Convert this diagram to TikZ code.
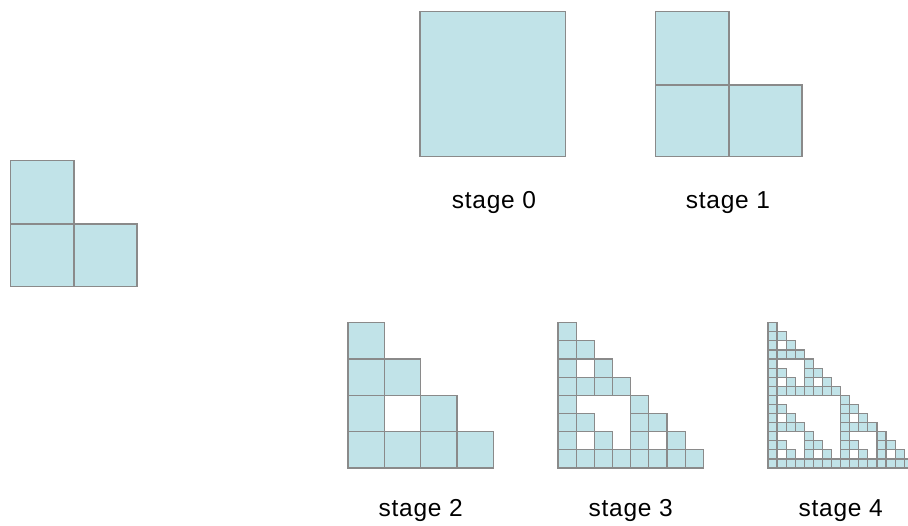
\documentclass[tikz,border=0pt]{standalone}
\usepackage{fontspec}
\setmainfont{Liberation Sans}
\definecolor{cellfill}{RGB}{193,227,232}
\definecolor{cellline}{RGB}{138,138,138}
\tikzset{
  cell/.style={fill=cellfill,draw=cellline,line width=1.2pt},
  lbl/.style={font=\fontsize{24.5}{29}\selectfont\addfontfeature{LetterSpace=3},anchor=base,inner sep=0pt}
}
\newcommand\sierpinskigrid[4]{% #1 left, #2 bottom, #3 cell size, #4 n-1
  \foreach \i in {0,...,#4}{
    \foreach \j in {0,...,#4}{
      \pgfmathtruncatemacro\hit{mod(floor(\i/1),2)*mod(floor(\j/1),2)+mod(floor(\i/2),2)*mod(floor(\j/2),2)+mod(floor(\i/4),2)*mod(floor(\j/4),2)+mod(floor(\i/8),2)*mod(floor(\j/8),2)}
      \ifnum\hit=0
        \draw[cell] ({#1+\i*#3},{#2-\j*#3}) rectangle ++(#3,-#3);
      \fi
    }
  }
}
\begin{document}
\begin{tikzpicture}[x=1pt,y=-1pt]
\useasboundingbox (0,0) rectangle (908,525);
\clip (0,0) rectangle (908,525);
% left L shape
\draw[cell] (10.7,160.7) rectangle (74,224);
\draw[cell] (10.7,224) rectangle (74,286.5);
\draw[cell] (74,224) rectangle (137,286.5);
% stage 0
\draw[cell] (420,11.7) rectangle (565.3,156.5);
% stage 1
\draw[cell] (655.7,11.7) rectangle (729,85);
\draw[cell] (655.7,85) rectangle (729,156.5);
\draw[cell] (729,85) rectangle (802,156.5);
% stages 2-4
\sierpinskigrid{348}{468}{36.33}{3}
\sierpinskigrid{558}{468}{18.16}{7}
\sierpinskigrid{768}{468}{9.08}{15}
% labels
\node[lbl] (l0) at (494,208.3) {stage 0};
\node[lbl] (l1) at (728,208.3) {stage 1};
\node[lbl] (l2) at (420.7,516.7) {stage 2};
\node[lbl] (l3) at (630.7,516.7) {stage 3};
\node[lbl] (l4) at (840.7,516.7) {stage 4};
\end{tikzpicture}
\end{document}
